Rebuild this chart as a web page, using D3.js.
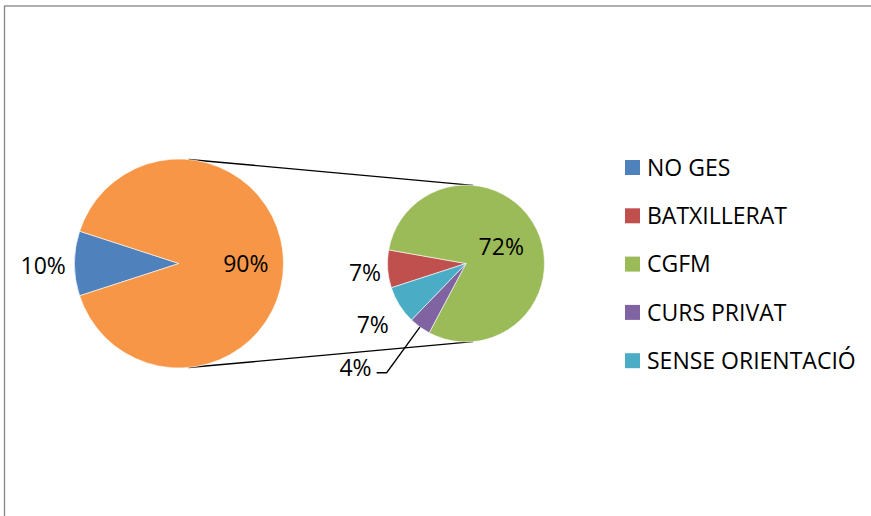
<!DOCTYPE html>
<html>
<head>
<meta charset="utf-8">
<script src="https://cdn.jsdelivr.net/npm/d3@7"></script>
<style>
  body { margin: 0; background: #fff; }
  svg text { font-family: "Open Sans", sans-serif; fill: #000; }
</style>
</head>
<body>
<svg width="871" height="516"></svg>
<script>

// categories and their share (percent of all students)
var categories = ["NO GES", "BATXILLERAT", "CGFM", "CURS PRIVAT", "SENSE ORIENTACIÓ"];
var values = [10, 7, 72, 4, 7];
var colors = ["#4F81BD", "#C0504D", "#9BBB59", "#8064A2", "#4BACC6"];
var otherColor = "#F79646";

// categories that are split out into the second pie
var secondCats = ["BATXILLERAT", "CGFM", "CURS PRIVAT", "SENSE ORIENTACIÓ"];

var svg = d3.select("svg"),
    w = 871,
    h = 516,
    fontSize = 23;

// chart area border (runs off the right and bottom edge)
svg.append("rect")
  .attr("x", 4.5)
  .attr("y", 6)
  .attr("width", w + 20)
  .attr("height", h + 20)
  .attr("fill", "none")
  .attr("stroke", "#868686")
  .attr("stroke-width", 1.3);

// build the two pie tables
var rows = categories.map(function(c, i) {
  return {name: c, value: values[i], color: colors[i]};
});
var second = rows.filter(function(d) { return secondCats.indexOf(d.name) >= 0; });
var otherTotal = d3.sum(second, function(d) { return d.value; });
var first = rows.filter(function(d) { return secondCats.indexOf(d.name) < 0; });
first.push({name: "other", value: otherTotal, color: otherColor});

// both pies start 18 degrees below the 9 o'clock position
var start = Math.PI * 1.4;
var pie = d3.pie()
  .sort(null)
  .value(function(d) { return d.value; })
  .startAngle(start)
  .endAngle(start + 2 * Math.PI);

var big = {cx: 179, cy: 263.5, r: 104.5},
    small = {cx: 466, cy: 263.5, r: 78.5};

// distance of each label from centre, as a share of the radius
var labelRadius = {
  "NO GES": 1.3, "other": 0.64,
  "BATXILLERAT": 1.29, "CGFM": 0.5, "SENSE ORIENTACIÓ": 1.4
};

// connector lines: outer common tangents of the two circles
var dist = small.cx - big.cx;
var phi = Math.asin((big.r - small.r) / dist);
[-1, 1].forEach(function(s) {
  svg.append("line")
    .attr("x1", big.cx + big.r * Math.sin(phi))
    .attr("y1", big.cy + s * big.r * Math.cos(phi))
    .attr("x2", small.cx + small.r * Math.sin(phi))
    .attr("y2", small.cy + s * small.r * Math.cos(phi))
    .attr("stroke", "#000")
    .attr("stroke-width", 1.4);
});

function drawPie(data, p) {
  var g = svg.append("g")
    .attr("transform", "translate(" + p.cx + "," + p.cy + ")");

  var arc = d3.arc().innerRadius(0).outerRadius(p.r);
  var arcs = pie(data);

  g.selectAll("path")
    .data(arcs)
    .enter()
    .append("path")
    .attr("d", arc)
    .attr("fill", function(d) { return d.data.color; })
    .attr("stroke", "#fff")
    .attr("stroke-width", 0.6);

  arcs.forEach(function(d) {
    var name = d.data.name;
    if (name == "CURS PRIVAT") {
      // small slice: label with leader line
      var edge = d3.arc().innerRadius(p.r).outerRadius(p.r).centroid(d);
      var elbow = d3.arc().innerRadius(p.r * 1.72).outerRadius(p.r * 1.72).centroid(d);
      g.append("polyline")
        .attr("points", [edge, elbow, [elbow[0] - 10, elbow[1]]].join(" "))
        .attr("fill", "none")
        .attr("stroke", "#000")
        .attr("stroke-width", 1.3);
      g.append("text")
        .attr("x", elbow[0] - 15)
        .attr("y", elbow[1] + 3)
        .attr("text-anchor", "end")
        .style("font-size", fontSize + "px")
        .text(d.data.value + "%");
      return;
    }
    var k = labelRadius[name] * p.r;
    var c = d3.arc().innerRadius(k).outerRadius(k).centroid(d);
    // outside labels sit a little lower
    var dy = k > p.r ? 2.5 : 0;
    g.append("text")
      .attr("x", c[0])
      .attr("y", c[1] + fontSize * 0.36 + dy)
      .attr("text-anchor", "middle")
      .style("font-size", fontSize + "px")
      .text(d.data.value + "%");
  });
}

drawPie(first, big);
drawPie(second, small);

// legend
var legend = svg.selectAll(".legend")
  .data(rows)
  .enter()
  .append("g")
  .attr("class", "legend")
  .attr("transform", function(d, i) {
    return "translate(625," + (167.5 + i * 48.3) + ")";
  });

legend.append("rect")
  .attr("x", 0)
  .attr("y", -7.5)
  .attr("width", 15)
  .attr("height", 15)
  .attr("fill", function(d) { return d.color; });

legend.append("text")
  .attr("x", 22)
  .attr("y", fontSize * 0.36)
  .style("font-size", fontSize + "px")
  .text(function(d) { return d.name; });

</script>
</body>
</html>
